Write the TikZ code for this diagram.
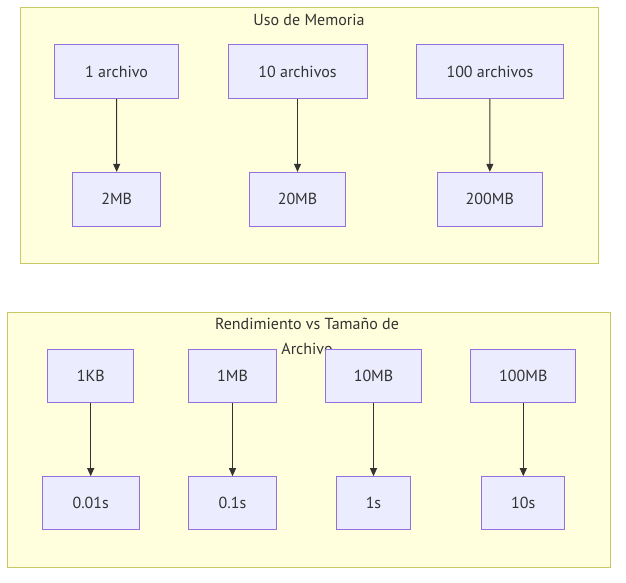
\documentclass[tikz,border=0pt]{standalone}
\usepackage{fontspec}
\setmainfont{PT Sans}
\usetikzlibrary{arrows.meta}
\definecolor{clfill}{HTML}{FFFFDE}
\definecolor{cldraw}{HTML}{C8C864}
\definecolor{ndfill}{HTML}{ECECFF}
\definecolor{nddraw}{HTML}{9370DB}
\definecolor{txt}{HTML}{333333}
\tikzset{
  cluster/.style={fill=clfill,draw=cldraw,line width=1pt},
  box/.style={draw=nddraw,fill=ndfill,line width=1pt,text=txt,font=\fontsize{16}{19}\selectfont,inner sep=0pt},
  conn/.style={draw=txt,line width=1pt,-{Triangle[length=8pt,width=7pt]}},
  ttl/.style={text=txt,font=\fontsize{16}{25}\selectfont,align=center,inner sep=0pt}
}
\begin{document}
\begin{tikzpicture}[x=1pt,y=-1pt]
\useasboundingbox (0,0) rectangle (626,582);
% clusters
\draw[cluster] (20,7.5) rectangle (598,263);
\node[ttl] (t1) at (309,20) {Uso de Memoria};
\draw[cluster] (7.7,312.3) rectangle (610.3,567.3);
\node[ttl] (t2) at (307,336) {Rendimiento vs Tamaño de\\Archivo};
% top nodes
\node[box,minimum width=124pt,minimum height=53.6pt] (a1) at (116.6,71.5) {1 archivo};
\node[box,minimum width=139pt,minimum height=53.6pt] (a2) at (297.5,71.5) {10 archivos};
\node[box,minimum width=147.7pt,minimum height=53.6pt] (a3) at (490,71.5) {100 archivos};
\node[box,minimum width=88pt,minimum height=53.7pt] (b1) at (116.7,199.2) {2MB};
\node[box,minimum width=96.4pt,minimum height=53.7pt] (b2) at (297.5,199.2) {20MB};
\node[box,minimum width=105pt,minimum height=53.7pt] (b3) at (489.8,199.2) {200MB};
% bottom nodes
\node[box,minimum width=86pt,minimum height=53pt] (c1) at (90.7,375.8) {1KB};
\node[box,minimum width=88.4pt,minimum height=53pt] (c2) at (232.5,375.8) {1MB};
\node[box,minimum width=96.4pt,minimum height=53pt] (c3) at (373.5,375.8) {10MB};
\node[box,minimum width=104.7pt,minimum height=53pt] (c4) at (523.3,375.8) {100MB};
\node[box,minimum width=96.7pt,minimum height=53.3pt] (d1) at (90.7,503.3) {0.01s};
\node[box,minimum width=88.4pt,minimum height=53.3pt] (d2) at (232.5,503.3) {0.1s};
\node[box,minimum width=74.4pt,minimum height=53.3pt] (d3) at (373.5,503.3) {1s};
\node[box,minimum width=82.7pt,minimum height=53.3pt] (d4) at (523.3,503.3) {10s};
% connectors
\draw[conn] (a1) -- (b1);
\draw[conn] (a2) -- (b2);
\draw[conn] (a3) -- (b3);
\draw[conn] (c1) -- (d1);
\draw[conn] (c2) -- (d2);
\draw[conn] (c3) -- (d3);
\draw[conn] (c4) -- (d4);
\end{tikzpicture}
\end{document}
